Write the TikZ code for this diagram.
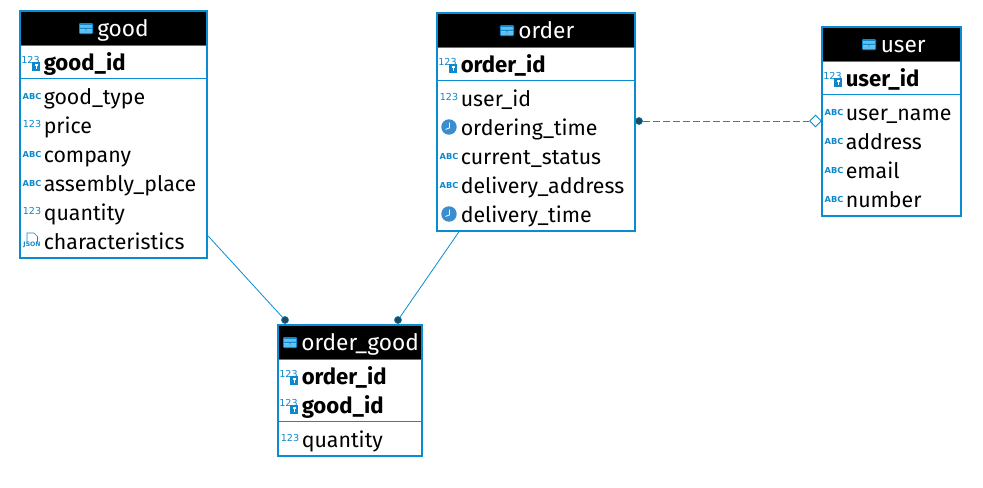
\documentclass[tikz,border=0pt]{standalone}
\usepackage{fontspec}
\setmainfont{Fira Sans}
\newfontfamily\iconfont{DejaVu Sans}
\usetikzlibrary{shapes.geometric,fit}
\definecolor{erdLine}{RGB}{9,140,208}
\definecolor{erdIcon}{RGB}{14,136,204}
\definecolor{erdClock}{RGB}{58,142,208}
\definecolor{erdDot}{RGB}{38,70,92}
\definecolor{erdBand}{RGB}{96,190,240}
\tikzset{
  tablebox/.style={rectangle, draw=erdLine, fill=white, line width=1.5pt, inner sep=0pt},
  headbox/.style={rectangle, fill=black, inner sep=0pt},
  headtext/.style={anchor=base west, text=white, font=\fontsize{17}{18}\selectfont, inner sep=0pt},
  fieldtext/.style={anchor=base west, text=black, font=\fontsize{16}{18}\selectfont, inner sep=0pt},
  keytext/.style={fieldtext, font=\fontsize{16.6}{18}\selectfont\bfseries},
  seprule/.style={draw=erdLine, line width=0.75pt},
  relline/.style={draw=erdLine, line width=0.6pt},
  reldash/.style={relline, line width=0.7pt, dash pattern=on 5pt off 2.5pt},
  fkdot/.style={circle, fill=erdDot, draw=erdLine, line width=0.4pt, inner sep=0pt, minimum size=5.4pt},
  pkdiamond/.style={diamond, fill=white, draw=erdLine, line width=0.6pt, inner sep=0pt, minimum size=8.8pt},
  abcicon/.style={text=erdIcon, font=\iconfont\fontsize{6.2}{7}\bfseries\selectfont, inner sep=0pt},
  numicon/.style={text=erdIcon, font=\iconfont\fontsize{7.2}{8}\selectfont, inner sep=0pt},
  tableicon/.pic={
    \fill[erdIcon, rounded corners=0.8pt] (-7,-5.5) rectangle (7,5.5);
    \fill[erdBand] (-5.8,-4) rectangle (5.8,-0.6);
    \fill[white] (-5.8,-0.6) rectangle (5.8,4.3);
    \fill[erdIcon] (-5.8,-0.6) rectangle (5.8,0.8) (-0.7,-0.6) rectangle (0.7,4.3);
    \fill[erdBand] (-5.8,0.8) rectangle (-0.7,4.3) (0.7,0.8) rectangle (5.8,4.3);
  },
  keyicon/.pic={
    \node[numicon] (-num) at (-2.5,-2.5) {123};
    \fill[erdIcon] (-1,-0.5) rectangle (7,8.5);
    \fill[white] (1.6,1.6) rectangle (4.6,4.4);
    \fill[white] (3,4.4) rectangle (4.4,6.8);
  },
  clockicon/.pic={
    \fill[erdClock] (0,0) circle [radius=5.8pt];
    \draw[white, line width=0.6pt] (0.4,-4.5) -- (0.4,1) -- (-3.6,2.4);
  },
  jsonicon/.pic={
    \draw[erdIcon, line width=0.5pt] (-5,1) -- (-5,-8) -- (2,-8) -- (5.5,-4.5) -- (5.5,1);
    \node[text=erdIcon, font=\iconfont\fontsize{4.6}{5}\bfseries\selectfont, inner sep=0pt] (-txt) at (0,3.5) {JSON};
  },
}

\begin{document}
\begin{tikzpicture}[x=0.75pt,y=-0.75pt]
  \useasboundingbox (0,0) rectangle (983,487);

  % --- good table ---
  \node[tablebox, fit={(19.8,10.8)(207,258)}] (good) {};
  \node[headbox, fit={(20.5,12)(206,44.5)}] (goodhead) {};
  \pic (goodtab) at (86,28.5) {tableicon};
  \node[headtext] (goodname) at (97,36) {good};
  \draw[seprule] (21,45.5) -- (206,45.5);
  \draw[seprule] (21,78.5) -- (206,78.5);
  \pic (goodk) at (33,62) {keyicon};
  \node[keytext] (goodid) at (43.5,70) {good\_id};
  \node[abcicon] (goodic1) at (32,96) {ABC};
  \node[fieldtext] (goodtype) at (43.5,104) {good\_type};
  \node[numicon] (goodic2) at (32,124) {123};
  \node[fieldtext] (goodprice) at (43.5,133) {price};
  \node[abcicon] (goodic3) at (32,154) {ABC};
  \node[fieldtext] (goodcompany) at (43.5,162) {company};
  \node[abcicon] (goodic4) at (32,183) {ABC};
  \node[fieldtext] (goodplace) at (43.5,191) {assembly\_place};
  \node[numicon] (goodic5) at (32,211) {123};
  \node[fieldtext] (goodqty) at (43.5,220) {quantity};
  \pic (goodjson) at (32,241) {jsonicon};
  \node[fieldtext] (goodchar) at (43.5,249) {characteristics};

  % --- order table ---
  \node[tablebox, fit={(436.8,12.8)(635,231)}] (order) {};
  \node[headbox, fit={(437.5,14)(634,46.5)}] (orderhead) {};
  \pic (ordertab) at (507,30.5) {tableicon};
  \node[headtext] (ordername) at (518,38) {order};
  \draw[seprule] (438,47.5) -- (634,47.5);
  \draw[seprule] (438,80.5) -- (634,80.5);
  \pic (orderk) at (450,64) {keyicon};
  \node[keytext] (orderid) at (460.5,72) {order\_id};
  \node[numicon] (orderic1) at (449,97) {123};
  \node[fieldtext] (orderuser) at (460.5,106) {user\_id};
  \pic (orderclk1) at (449,127) {clockicon};
  \node[fieldtext] (ordertime) at (460.5,135) {ordering\_time};
  \node[abcicon] (orderic2) at (449,156) {ABC};
  \node[fieldtext] (orderstatus) at (460.5,164) {current\_status};
  \node[abcicon] (orderic3) at (449,185) {ABC};
  \node[fieldtext] (orderaddr) at (460.5,193) {delivery\_address};
  \pic (orderclk2) at (449,214) {clockicon};
  \node[fieldtext] (orderdeliv) at (460.5,222) {delivery\_time};

  % --- user table ---
  \node[tablebox, fit={(821.8,26.8)(961,216)}] (user) {};
  \node[headbox, fit={(822.5,28)(960,60.5)}] (userhead) {};
  \pic (usertab) at (869,44.5) {tableicon};
  \node[headtext] (username) at (880.5,52) {user};
  \draw[seprule] (823,61.5) -- (960,61.5);
  \draw[seprule] (823,94.5) -- (960,94.5);
  \pic (userk) at (835,78) {keyicon};
  \node[keytext] (userid) at (845.5,86) {user\_id};
  \node[abcicon] (useric1) at (834,112) {ABC};
  \node[fieldtext] (userfull) at (845.5,120) {user\_name};
  \node[abcicon] (useric2) at (834,141) {ABC};
  \node[fieldtext] (useraddr) at (845.5,149) {address};
  \node[abcicon] (useric3) at (834,170) {ABC};
  \node[fieldtext] (usermail) at (845.5,178) {email};
  \node[abcicon] (useric4) at (834,199) {ABC};
  \node[fieldtext] (usernum) at (845.5,207) {number};

  % --- order_good table ---
  \node[tablebox, fit={(277.8,324.8)(422,456)}] (ordergood) {};
  \node[headbox, fit={(278.5,326)(421,358.5)}] (oghead) {};
  \pic (ogtab) at (290,342.5) {tableicon};
  \node[headtext] (ogname) at (301,350) {order\_good};
  \draw[seprule] (279,359.5) -- (421,359.5);
  \draw[seprule] (279,421.5) -- (421,421.5);
  \pic (ogk1) at (291,376) {keyicon};
  \node[keytext] (ogorder) at (301.5,384) {order\_id};
  \pic (ogk2) at (291,405) {keyicon};
  \node[keytext] (oggood) at (301.5,413) {good\_id};
  \node[numicon] (ogic1) at (290,438) {123};
  \node[fieldtext] (ogqty) at (301.5,447) {quantity};

  % --- relations ---
  \node[fkdot] (dotgood) at (285,320) {};
  \node[fkdot] (dotorder) at (398,320) {};
  \node[fkdot] (dotuser) at (639,121) {};
  \node[pkdiamond] (diauser) at (815.5,121) {};
  \draw[relline] (good.-47.6) -- (dotgood);
  \draw[relline] (order.235.2) -- (dotorder);
  \draw[reldash] (dotuser) -- (diauser);
\end{tikzpicture}
\end{document}
